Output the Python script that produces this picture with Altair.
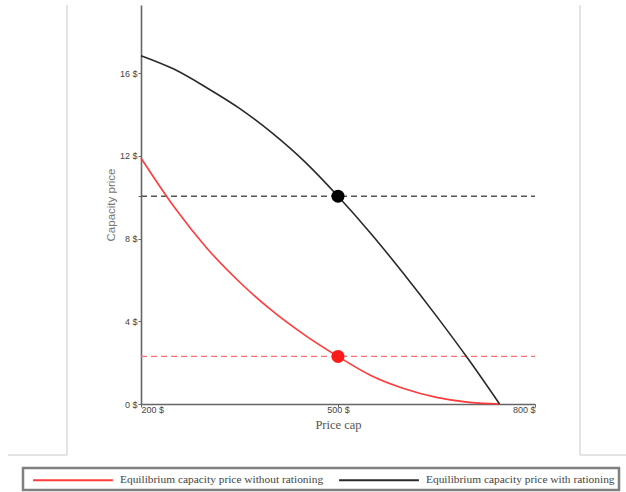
import altair as alt
import pandas as pd

# Curves
with_x = [200, 250, 300, 350, 400, 450, 500, 550, 600, 650, 700, 746]
with_y = [16.85, 16.2, 15.3, 14.3, 13.1, 11.7, 10.05, 8.25, 6.3, 4.25, 2.1, 0.0]
without_x = [200, 250, 300, 350, 400, 450, 500, 550, 600, 650, 700, 746]
without_y = [11.9, 9.55, 7.55, 5.9, 4.5, 3.32, 2.3, 1.38, 0.75, 0.32, 0.08, 0.0]

series_names = ["Equilibrium capacity price without rationing",
                "Equilibrium capacity price with rationing"]
series_colors = ["#ff3b3b", "#2a2a2a"]

eq_x = [500, 500]
eq_y = [2.3, 10.05]
eq_colors = ["#ff1a1a", "#000000"]
dash_colors = ["#ff7070", "#555555"]

x_ticks = [200, 500, 800]
y_ticks = [0, 4, 8, 10.05, 12, 16]
y_labelled = [0, 4, 8, 12, 16]
x_domain = [200, 800]
y_domain = [0, 19.3]

curves = pd.DataFrame(
    {"x": without_x + with_x,
     "y": without_y + with_y,
     "series": [series_names[0]] * len(without_x) + [series_names[1]] * len(with_x),
     "order": list(range(len(without_x))) + list(range(len(with_x)))}
)
eq = pd.DataFrame({"x": eq_x, "y": eq_y, "c": eq_colors, "dc": dash_colors,
                   "x0": [x_domain[0]] * 2, "x1": [x_domain[1]] * 2})

xs = alt.Scale(domain=x_domain, nice=False, zero=False)
ys = alt.Scale(domain=y_domain, nice=False, zero=True)

y_label_expr = "indexof(" + str(y_labelled) + ", datum.value) >= 0 ? datum.value + ' $' : ''"

x_axis = alt.Axis(values=x_ticks, labelExpr="datum.value + ' $'", title="Price cap",
                  grid=False, tickSize=3, labelPadding=-2, titlePadding=4,
                  labelFont="Liberation Sans", labelFontSize=9, labelColor="#444",
                  titleFont="Liberation Serif", titleFontSize=12.5, titleFontWeight="normal",
                  titleColor="#555", domainColor="#666", domainWidth=1.6, tickColor="#666")
y_axis = alt.Axis(values=y_ticks, labelExpr=y_label_expr, title="Capacity price",
                  grid=False, tickSize=3, labelPadding=1, titlePadding=3,
                  labelFont="Liberation Sans", labelFontSize=9, labelColor="#444",
                  titleFont="Liberation Sans", titleFontSize=11.5, titleFontWeight="normal",
                  titleColor="#777", domainColor="#666", domainWidth=1.6, tickColor="#666")

dashes = alt.Chart(eq).mark_rule(strokeDash=[6, 4], strokeWidth=1.3).encode(
    x=alt.X("x0:Q", scale=xs, axis=x_axis),
    x2="x1:Q",
    y=alt.Y("y:Q", scale=ys, axis=y_axis),
    stroke=alt.Stroke("dc:N", scale=None, legend=None),
)

lines = alt.Chart(curves).mark_line(interpolate="monotone", strokeWidth=1.6).encode(
    x=alt.X("x:Q", scale=xs),
    y=alt.Y("y:Q", scale=ys),
    order="order:Q",
    color=alt.Color("series:N", scale=alt.Scale(domain=series_names, range=series_colors),
                    legend=alt.Legend(title=None, orient="none", legendX=-118, legendY=463,
                                      direction="horizontal", columns=2,
                                      symbolType="M-5.7,0H5.7", symbolSize=196,
                                      symbolOffset=38, labelOffset=39,
                                      symbolStrokeWidth=2, labelFont="Liberation Serif",
                                      labelFontSize=11.4, labelColor="#444", labelLimit=0,
                                      columnPadding=9, padding=4,
                                      strokeColor="#808080", fillColor="#ffffff")),
)

points = alt.Chart(eq).mark_circle(size=170, opacity=1).encode(
    x=alt.X("x:Q", scale=xs),
    y=alt.Y("y:Q", scale=ys),
    fill=alt.Fill("c:N", scale=None, legend=None),
)

frame_color = "#c8c8c8"
frame = [
    alt.Chart().mark_rule(color=frame_color).encode(x=alt.value(-74), y=alt.value(0), y2=alt.value(450)),
    alt.Chart().mark_rule(color=frame_color).encode(x=alt.value(-133), x2=alt.value(-74), y=alt.value(450)),
    alt.Chart().mark_rule(color=frame_color).encode(x=alt.value(439), y=alt.value(0), y2=alt.value(450)),
    alt.Chart().mark_rule(color=frame_color).encode(x=alt.value(439), x2=alt.value(485), y=alt.value(450)),
]

chart = alt.layer(dashes, lines, points, *frame).resolve_scale(
    color="independent", fill="independent", stroke="independent"
).properties(
    width=394, height=399,
    autosize=alt.AutoSizeParams(type="none"),
    padding={"left": 141, "top": 5, "right": 91, "bottom": 88},
).configure_view(stroke=None).configure_legend(strokeWidth=2.5)

chart.save("out.html", embed_options={"renderer": "svg", "actions": False})
